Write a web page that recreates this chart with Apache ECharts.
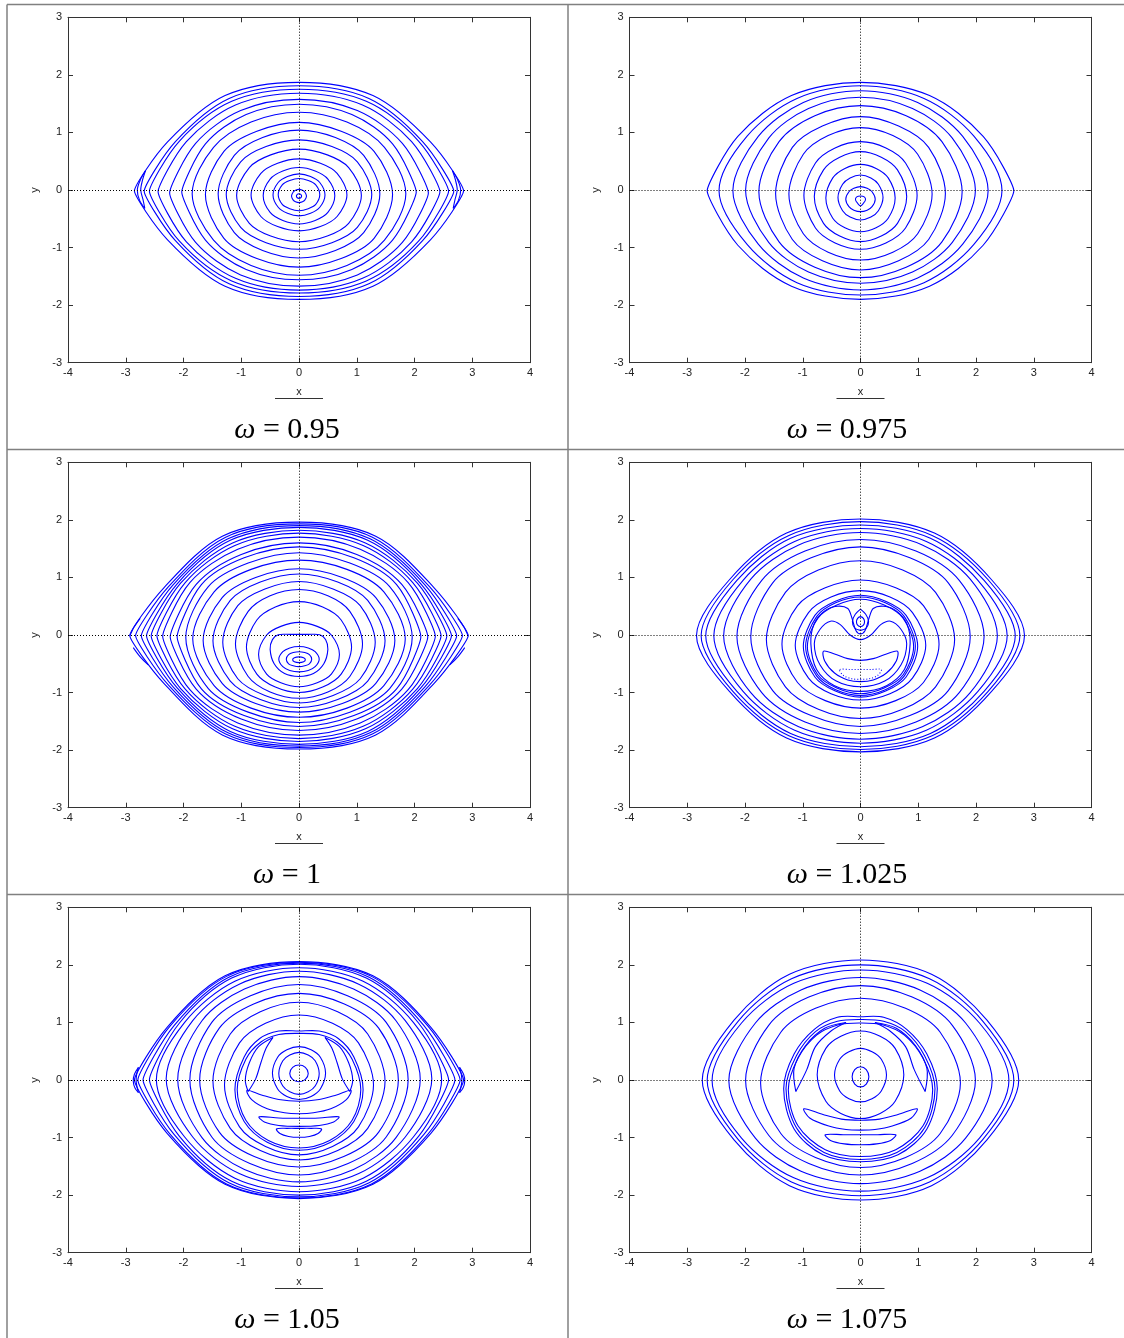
<!DOCTYPE html>
<html>
<head>
<meta charset="utf-8">
<script src="https://cdn.jsdelivr.net/npm/echarts@6/dist/echarts.min.js"></script>
<style>
html,body{margin:0;padding:0;background:#fff;}
#chart{width:1124px;height:1338px;}
</style>
</head>
<body>
<div id="chart"></div>
<script>
// Driving frequencies, one per panel (row-major order)
const omegaValues = ['0.95', '0.975', '1', '1.025', '1.05', '1.075'];

// Axis ranges and tick step
const xRange = [-4, 4];
const yRange = [-3, 3];
const tickStep = 1;

// ---- omega = 0.95 : closed invariant curves, listed W -> top -> E -> bottom
const closedW095 = [
  [[-2.85,-0.015],[-2.28,0.83],[-1.28,1.64],[0,1.87],[1.28,1.64],[2.28,0.83],[2.85,-0.015],[2.28,-0.86],[1.28,-1.67],[0,-1.9],[-1.28,-1.67],[-2.28,-0.86]],
  [[-2.68,-0.02],[-2.14,0.84],[-1.21,1.59],[0,1.81],[1.21,1.59],[2.14,0.84],[2.68,-0.02],[2.14,-0.88],[1.21,-1.63],[0,-1.85],[-1.21,-1.63],[-2.14,-0.88]],
  [[-2.59,-0.02],[-2.07,0.85],[-1.165,1.54],[0,1.75],[1.165,1.54],[2.07,0.85],[2.59,-0.02],[2.07,-0.89],[1.165,-1.58],[0,-1.79],[-1.165,-1.58],[-2.07,-0.89]],
  [[-2.44,-0.03],[-1.95,0.84],[-1.1,1.475],[0,1.68],[1.1,1.475],[1.95,0.84],[2.44,-0.03],[1.95,-0.9],[1.1,-1.535],[0,-1.74],[-1.1,-1.535],[-1.95,-0.9]],
  [[-2.24,-0.05],[-1.79,0.81],[-1.01,1.38],[0,1.575],[1.01,1.38],[1.79,0.81],[2.24,-0.05],[1.79,-0.91],[1.01,-1.475],[0,-1.67],[-1.01,-1.475],[-1.79,-0.91]],
  [[-2.03,-0.035],[-1.62,0.8],[-0.915,1.31],[0,1.49],[0.915,1.31],[1.62,0.8],[2.03,-0.035],[1.62,-0.87],[0.915,-1.38],[0,-1.56],[-0.915,-1.38],[-1.62,-0.87]],
  [[-1.85,-0.065],[-1.48,0.74],[-0.83,1.18],[0,1.35],[0.83,1.18],[1.48,0.74],[1.85,-0.065],[1.48,-0.87],[0.83,-1.31],[0,-1.48],[-0.83,-1.31],[-1.48,-0.87]],
  [[-1.62,-0.08],[-1.3,0.67],[-0.73,1.02],[0,1.175],[0.73,1.02],[1.3,0.67],[1.62,-0.08],[1.3,-0.84],[0.73,-1.19],[0,-1.34],[-0.73,-1.19],[-1.3,-0.84]],
  [[-1.4,-0.07],[-1.12,0.6],[-0.63,0.91],[0,1.04],[0.63,0.91],[1.12,0.6],[1.4,-0.07],[1.12,-0.74],[0.63,-1.05],[0,-1.18],[-0.63,-1.05],[-1.12,-0.74]],
  [[-1.26,-0.08],[-1.01,0.49],[-0.57,0.755],[0,0.87],[0.57,0.755],[1.01,0.49],[1.26,-0.08],[1.01,-0.65],[0.57,-0.915],[0,-1.03],[-0.57,-0.915],[-1.01,-0.65]],
  [[-1.08,-0.095],[-0.86,0.39],[-0.49,0.61],[0,0.71],[0.49,0.61],[0.86,0.39],[1.08,-0.095],[0.86,-0.58],[0.49,-0.8],[0,-0.9],[-0.49,-0.8],[-0.86,-0.58]],
  [[-0.83,-0.085],[-0.66,0.29],[-0.37,0.465],[0,0.54],[0.37,0.465],[0.66,0.29],[0.83,-0.085],[0.66,-0.46],[0.37,-0.635],[0,-0.71],[-0.37,-0.635],[-0.66,-0.46]],
  [[-0.62,-0.1],[-0.5,0.19],[-0.28,0.33],[0,0.39],[0.28,0.33],[0.5,0.19],[0.62,-0.1],[0.5,-0.39],[0.28,-0.53],[0,-0.59],[-0.28,-0.53],[-0.5,-0.39]],
  [[-0.45,-0.085],[-0.36,0.13],[-0.2,0.235],[0,0.28],[0.2,0.235],[0.36,0.13],[0.45,-0.085],[0.36,-0.3],[0.2,-0.405],[0,-0.45],[-0.2,-0.405],[-0.36,-0.3]],
  [[-0.36,-0.08],[-0.29,0.09],[-0.16,0.165],[0,0.2],[0.16,0.165],[0.29,0.09],[0.36,-0.08],[0.29,-0.25],[0.16,-0.325],[0,-0.36],[-0.16,-0.325],[-0.29,-0.25]],
  [[-0.13,-0.105],[-0.1,-0.035],[-0.06,-0.005],[0,0.01],[0.06,-0.005],[0.1,-0.035],[0.13,-0.105],[0.1,-0.175],[0.06,-0.205],[0,-0.22],[-0.06,-0.205],[-0.1,-0.175]],
  [[-0.045,-0.105],[-0.03,-0.075],[0,-0.065],[0.03,-0.075],[0.045,-0.105],[0.03,-0.135],[0,-0.145],[-0.03,-0.135]]
];
// small islands near the hyperbolic tips (open arcs, tip to tip)
const openW095 = [
  [[-2.66,0.33],[-2.75,0.17],[-2.8,0],[-2.76,-0.18],[-2.67,-0.32]],
  [[-2.66,0.33],[-2.71,0.17],[-2.74,0],[-2.7,-0.17],[-2.67,-0.32]],
  [[2.66,0.33],[2.75,0.17],[2.8,0],[2.76,-0.18],[2.67,-0.32]],
  [[2.66,0.33],[2.71,0.17],[2.74,0],[2.7,-0.17],[2.67,-0.32]]
];

// ---- omega = 0.975
const closedW0975 = [
  [[-2.655,-0.015],[-2.124,0.93],[-1.195,1.64],[0,1.87],[1.195,1.64],[2.124,0.93],[2.655,-0.015],[2.124,-0.96],[1.195,-1.67],[0,-1.9],[-1.195,-1.67],[-2.124,-0.96]],
  [[-2.45,-0.01],[-1.96,0.94],[-1.1,1.59],[0,1.81],[1.1,1.59],[1.96,0.94],[2.45,-0.01],[1.96,-0.95],[1.1,-1.61],[0,-1.825],[-1.1,-1.61],[-1.96,-0.95]],
  [[-2.21,-0.01],[-1.77,0.93],[-0.99,1.52],[0,1.725],[0.99,1.52],[1.77,0.93],[2.21,-0.01],[1.77,-0.94],[0.99,-1.53],[0,-1.737],[-0.99,-1.53],[-1.77,-0.94]],
  [[-1.99,-0.005],[-1.59,0.9],[-0.9,1.415],[0,1.61],[0.9,1.415],[1.59,0.9],[1.99,-0.005],[1.59,-0.91],[0.9,-1.425],[0,-1.62],[-0.9,-1.425],[-1.59,-0.91]],
  [[-1.76,-0.03],[-1.41,0.84],[-0.79,1.29],[0,1.465],[0.79,1.29],[1.41,0.84],[1.76,-0.03],[1.41,-0.9],[0.79,-1.34],[0,-1.523],[-0.79,-1.34],[-1.41,-0.9]],
  [[-1.47,-0.06],[-1.18,0.74],[-0.66,1.11],[0,1.274],[0.66,1.11],[1.18,0.74],[1.47,-0.06],[1.18,-0.86],[0.66,-1.23],[0,-1.39],[-0.66,-1.23],[-1.18,-0.86]],
  [[-1.24,-0.07],[-0.99,0.62],[-0.56,0.945],[0,1.083],[0.56,0.945],[0.99,0.62],[1.24,-0.07],[0.99,-0.76],[0.56,-1.08],[0,-1.216],[-0.56,-1.08],[-0.99,-0.76]],
  [[-0.98,-0.095],[-0.78,0.47],[-0.44,0.73],[0,0.84],[0.44,0.73],[0.78,0.47],[0.98,-0.095],[0.78,-0.66],[0.44,-0.92],[0,-1.03],[-0.44,-0.92],[-0.78,-0.66]],
  [[-0.8,-0.115],[-0.64,0.35],[-0.36,0.57],[0,0.666],[0.36,0.57],[0.64,0.35],[0.8,-0.115],[0.64,-0.58],[0.36,-0.8],[0,-0.897],[-0.36,-0.8],[-0.64,-0.58]],
  [[-0.6,-0.14],[-0.48,0.21],[-0.27,0.375],[0,0.446],[0.27,0.375],[0.48,0.21],[0.6,-0.14],[0.48,-0.49],[0.27,-0.655],[0,-0.724],[-0.27,-0.655],[-0.48,-0.49]],
  [[-0.39,-0.13],[-0.31,0.1],[-0.18,0.21],[0,0.26],[0.18,0.21],[0.31,0.1],[0.39,-0.13],[0.31,-0.36],[0.18,-0.47],[0,-0.52],[-0.18,-0.47],[-0.31,-0.36]],
  [[-0.255,-0.16],[-0.2,-0.03],[-0.115,0.03],[0,0.058],[0.115,0.03],[0.2,-0.03],[0.255,-0.16],[0.2,-0.29],[0.115,-0.35],[0,-0.376],[-0.115,-0.35],[-0.2,-0.29]],
  [[-0.087,-0.17],[-0.065,-0.12],[0,-0.104],[0.065,-0.12],[0.087,-0.17],[0.05,-0.23],[0,-0.278],[-0.05,-0.23]]
];
const openW0975 = [];

// ---- omega = 1
const closedW1 = [
  [[-2.93,-0.01],[-2.34,0.82],[-1.32,1.72],[0,1.96],[1.32,1.72],[2.34,0.82],[2.93,-0.01],[2.34,-0.84],[1.32,-1.74],[0,-1.98],[-1.32,-1.74],[-2.34,-0.84]],
  [[-2.83,-0.01],[-2.26,0.84],[-1.27,1.7],[0,1.93],[1.27,1.7],[2.26,0.84],[2.83,-0.01],[2.26,-0.87],[1.27,-1.72],[0,-1.955],[-1.27,-1.72],[-2.26,-0.87]],
  [[-2.73,-0.015],[-2.18,0.87],[-1.23,1.67],[0,1.9],[1.23,1.67],[2.18,0.87],[2.73,-0.015],[2.18,-0.9],[1.23,-1.7],[0,-1.93],[-1.23,-1.7],[-2.18,-0.9]],
  [[-2.64,-0.015],[-2.11,0.89],[-1.19,1.645],[0,1.87],[1.19,1.645],[2.11,0.89],[2.64,-0.015],[2.11,-0.92],[1.19,-1.675],[0,-1.9],[-1.19,-1.675],[-2.11,-0.92]],
  [[-2.56,-0.015],[-2.05,0.9],[-1.15,1.6],[0,1.82],[1.15,1.6],[2.05,0.9],[2.56,-0.015],[2.05,-0.93],[1.15,-1.63],[0,-1.85],[-1.15,-1.63],[-2.05,-0.93]],
  [[-2.46,-0.015],[-1.97,0.91],[-1.11,1.556],[0,1.77],[1.11,1.556],[1.97,0.91],[2.46,-0.015],[1.97,-0.94],[1.11,-1.586],[0,-1.8],[-1.11,-1.586],[-1.97,-0.94]],
  [[-2.36,-0.02],[-1.89,0.91],[-1.06,1.49],[0,1.7],[1.06,1.49],[1.89,0.91],[2.36,-0.02],[1.89,-0.95],[1.06,-1.53],[0,-1.74],[-1.06,-1.53],[-1.89,-0.95]],
  [[-2.23,-0.03],[-1.78,0.88],[-1.0,1.4],[0,1.6],[1.0,1.4],[1.78,0.88],[2.23,-0.03],[1.78,-0.94],[1.0,-1.46],[0,-1.66],[-1.0,-1.46],[-1.78,-0.94]],
  [[-2.11,-0.03],[-1.69,0.875],[-0.95,1.34],[0,1.53],[0.95,1.34],[1.69,0.875],[2.11,-0.03],[1.69,-0.935],[0.95,-1.4],[0,-1.59],[-0.95,-1.4],[-1.69,-0.935]],
  [[-1.96,-0.045],[-1.57,0.84],[-0.88,1.25],[0,1.43],[0.88,1.25],[1.57,0.84],[1.96,-0.045],[1.57,-0.93],[0.88,-1.34],[0,-1.52],[-0.88,-1.34],[-1.57,-0.93]],
  [[-1.84,-0.065],[-1.47,0.75],[-0.83,1.14],[0,1.3],[0.83,1.14],[1.47,0.75],[1.84,-0.065],[1.47,-0.88],[0.83,-1.27],[0,-1.43],[-0.83,-1.27],[-1.47,-0.88]],
  [[-1.66,-0.095],[-1.33,0.65],[-0.75,1.0],[0,1.15],[0.75,1.0],[1.33,0.65],[1.66,-0.095],[1.33,-0.84],[0.75,-1.19],[0,-1.34],[-0.75,-1.19],[-1.33,-0.84]],
  [[-1.49,-0.1],[-1.19,0.6],[-0.67,0.92],[0,1.06],[0.67,0.92],[1.19,0.6],[1.49,-0.1],[1.19,-0.8],[0.67,-1.12],[0,-1.26],[-0.67,-1.12],[-1.19,-0.8]],
  [[-1.32,-0.125],[-1.06,0.51],[-0.59,0.8],[0,0.93],[0.59,0.8],[1.06,0.51],[1.32,-0.125],[1.06,-0.76],[0.59,-1.05],[0,-1.18],[-0.59,-1.05],[-1.06,-0.76]],
  [[-1.1,-0.155],[-0.88,0.41],[-0.5,0.68],[0,0.79],[0.5,0.68],[0.88,0.41],[1.1,-0.155],[0.88,-0.72],[0.5,-0.99],[0,-1.1],[-0.5,-0.99],[-0.88,-0.72]],
  [[-0.91,-0.21],[-0.73,0.26],[-0.41,0.485],[0,0.58],[0.41,0.485],[0.73,0.26],[0.91,-0.21],[0.73,-0.68],[0.41,-0.905],[0,-1.0],[-0.41,-0.905],[-0.73,-0.68]],
  [[-0.7,-0.34],[-0.56,0.0],[-0.315,0.15],[0,0.22],[0.315,0.15],[0.56,0.0],[0.7,-0.34],[0.56,-0.68],[0.315,-0.83],[0,-0.9],[-0.315,-0.83],[-0.56,-0.68]],
  [[-0.5,-0.25],[-0.46,-0.08],[-0.36,0.005],[-0.15,0.01],[0,0.01],[0.15,0.01],[0.36,0.005],[0.46,-0.08],[0.5,-0.25],[0.43,-0.5],[0.25,-0.67],[0,-0.72],[-0.25,-0.67],[-0.43,-0.5]],
  [[-0.35,-0.42],[-0.28,-0.29],[-0.16,-0.225],[0,-0.2],[0.16,-0.225],[0.28,-0.29],[0.35,-0.42],[0.28,-0.55],[0.16,-0.615],[0,-0.64],[-0.16,-0.615],[-0.28,-0.55]],
  [[-0.22,-0.42],[-0.18,-0.34],[-0.1,-0.305],[0,-0.29],[0.1,-0.305],[0.18,-0.34],[0.22,-0.42],[0.18,-0.5],[0.1,-0.535],[0,-0.55],[-0.1,-0.535],[-0.18,-0.5]],
  [[-0.11,-0.43],[-0.08,-0.395],[0,-0.38],[0.08,-0.395],[0.11,-0.43],[0.08,-0.465],[0,-0.48],[-0.08,-0.465]]
];
const openW1 = [
  [[-2.93,-0.02],[-2.86,0.13],[-2.75,0.29]],
  [[-2.87,-0.22],[-2.75,-0.38],[-2.61,-0.52]],
  [[2.93,-0.02],[2.86,0.13],[2.75,0.29]],
  [[2.87,-0.22],[2.75,-0.38],[2.61,-0.52]]
];

// ---- omega = 1.025
const closedW1025 = [
  [[-2.84,-0.01],[-2.27,0.96],[-1.28,1.77],[0,2.015],[1.28,1.77],[2.27,0.96],[2.84,-0.01],[2.27,-0.98],[1.28,-1.79],[0,-2.03],[-1.28,-1.79],[-2.27,-0.98]],
  [[-2.76,-0.01],[-2.21,0.96],[-1.24,1.73],[0,1.97],[1.24,1.73],[2.21,0.96],[2.76,-0.01],[2.21,-0.98],[1.24,-1.75],[0,-1.99],[-1.24,-1.75],[-2.21,-0.98]],
  [[-2.68,-0.015],[-2.14,0.95],[-1.21,1.68],[0,1.91],[1.21,1.68],[2.14,0.95],[2.68,-0.015],[2.14,-0.98],[1.21,-1.71],[0,-1.94],[-1.21,-1.71],[-2.14,-0.98]],
  [[-2.54,-0.015],[-2.03,0.955],[-1.14,1.625],[0,1.85],[1.14,1.625],[2.03,0.955],[2.54,-0.015],[2.03,-0.985],[1.14,-1.655],[0,-1.88],[-1.14,-1.655],[-2.03,-0.985]],
  [[-2.37,-0.015],[-1.9,0.97],[-1.07,1.565],[0,1.78],[1.07,1.565],[1.9,0.97],[2.37,-0.015],[1.9,-1.0],[1.07,-1.595],[0,-1.81],[-1.07,-1.595],[-1.9,-1.0]],
  [[-2.14,-0.025],[-1.71,0.95],[-0.96,1.46],[0,1.66],[0.96,1.46],[1.71,0.95],[2.14,-0.025],[1.71,-1.0],[0.96,-1.51],[0,-1.71],[-0.96,-1.51],[-1.71,-1.0]],
  [[-1.9,-0.03],[-1.52,0.905],[-0.855,1.34],[0,1.53],[0.855,1.34],[1.52,0.905],[1.9,-0.03],[1.52,-0.965],[0.855,-1.4],[0,-1.59],[-0.855,-1.4],[-1.52,-0.965]],
  [[-1.63,-0.08],[-1.3,0.74],[-0.73,1.13],[0,1.29],[0.73,1.13],[1.3,0.74],[1.63,-0.08],[1.3,-0.9],[0.73,-1.29],[0,-1.45],[-0.73,-1.29],[-1.3,-0.9]],
  [[-1.36,-0.16],[-1.09,0.51],[-0.61,0.82],[0,0.955],[0.61,0.82],[1.09,0.51],[1.36,-0.16],[1.09,-0.825],[0.61,-1.14],[0,-1.27],[-0.61,-1.14],[-1.09,-0.825]],
  [[-1.13,-0.18],[-0.9,0.39],[-0.51,0.66],[0,0.77],[0.51,0.66],[0.9,0.39],[1.13,-0.18],[0.9,-0.75],[0.51,-1.02],[0,-1.13],[-0.51,-1.02],[-0.9,-0.75]],
  [[-0.99,-0.195],[-0.79,0.34],[-0.445,0.58],[0,0.69],[0.445,0.58],[0.79,0.34],[0.99,-0.195],[0.79,-0.73],[0.445,-0.97],[0,-1.08],[-0.445,-0.97],[-0.79,-0.73]],
  [[-0.95,-0.195],[-0.76,0.32],[-0.43,0.56],[0,0.66],[0.43,0.56],[0.76,0.32],[0.95,-0.195],[0.76,-0.71],[0.43,-0.95],[0,-1.05],[-0.43,-0.95],[-0.76,-0.71]],
  [[-0.92,-0.2],[-0.74,0.29],[-0.41,0.52],[0,0.62],[0.41,0.52],[0.74,0.29],[0.92,-0.2],[0.74,-0.69],[0.41,-0.92],[0,-1.02],[-0.41,-0.92],[-0.74,-0.69]],
  [[-0.86,-0.15],[-0.8,0.2],[-0.62,0.42],[-0.4,0.5],[-0.22,0.46],[-0.15,0.3],[-0.08,0.08],[0,0.02],[0.08,0.08],[0.15,0.3],[0.22,0.46],[0.4,0.5],[0.62,0.42],[0.8,0.2],[0.86,-0.15],[0.76,-0.6],[0.45,-0.88],[0,-0.98],[-0.45,-0.88],[-0.76,-0.6]],
  [[-0.8,-0.15],[-0.7,0.1],[-0.52,0.24],[-0.35,0.18],[-0.18,0.0],[0,-0.08],[0.18,0.0],[0.35,0.18],[0.52,0.24],[0.7,0.1],[0.8,-0.15],[0.7,-0.52],[0.42,-0.8],[0,-0.9],[-0.42,-0.8],[-0.7,-0.52]],
  [[-0.64,-0.28],[-0.45,-0.33],[-0.22,-0.41],[0,-0.44],[0.22,-0.41],[0.45,-0.33],[0.64,-0.28],[0.62,-0.45],[0.45,-0.66],[0.22,-0.78],[0,-0.81],[-0.22,-0.78],[-0.45,-0.66],[-0.62,-0.45]],
  [[-0.07,0.23],[-0.05,0.29],[0,0.32],[0.05,0.29],[0.07,0.23],[0.05,0.17],[0,0.145],[-0.05,0.17]]
];
const openW1025 = [
  [[0,0.45],[0.09,0.36],[0.14,0.24],[0.1,0.12],[0,0.08]],
  [[0,0.45],[-0.09,0.36],[-0.14,0.24],[-0.1,0.12],[0,0.08]]
];
const dottedW1025 = [
  [[-0.36,-0.6],[-0.18,-0.6],[0,-0.6],[0.18,-0.6],[0.36,-0.6],[0.3,-0.7],[0.15,-0.76],[0,-0.77],[-0.15,-0.76],[-0.3,-0.7]]
];

// ---- omega = 1.05
const closedW105 = [
  [[-2.85,0],[-2.28,0.92],[-1.28,1.81],[0,2.056],[1.28,1.81],[2.28,0.92],[2.85,0],[2.28,-0.93],[1.28,-1.81],[0,-2.06],[-1.28,-1.81],[-2.28,-0.93]],
  [[-2.79,0],[-2.23,0.94],[-1.255,1.8],[0,2.045],[1.255,1.8],[2.23,0.94],[2.79,0],[2.23,-0.945],[1.255,-1.805],[0,-2.05],[-1.255,-1.805],[-2.23,-0.945]],
  [[-2.7,0],[-2.16,0.95],[-1.215,1.785],[0,2.03],[1.215,1.785],[2.16,0.95],[2.7,0],[2.16,-0.95],[1.215,-1.785],[0,-2.03],[-1.215,-1.785],[-2.16,-0.95]],
  [[-2.59,0.005],[-2.07,0.99],[-1.165,1.77],[0,2.01],[1.165,1.77],[2.07,0.99],[2.59,0.005],[2.07,-0.98],[1.165,-1.76],[0,-2.0],[-1.165,-1.76],[-2.07,-0.98]],
  [[-2.47,0.005],[-1.98,1.0],[-1.11,1.715],[0,1.95],[1.11,1.715],[1.98,1.0],[2.47,0.005],[1.98,-0.99],[1.11,-1.705],[0,-1.94],[-1.11,-1.705],[-1.98,-0.99]],
  [[-2.3,0.02],[-1.84,1.03],[-1.035,1.665],[0,1.89],[1.035,1.665],[1.84,1.03],[2.3,0.02],[1.84,-0.99],[1.035,-1.625],[0,-1.85],[-1.035,-1.625],[-1.84,-0.99]],
  [[-2.1,0.01],[-1.68,1.03],[-0.945,1.58],[0,1.795],[0.945,1.58],[1.68,1.03],[2.1,0.01],[1.68,-1.0],[0.945,-1.555],[0,-1.77],[-0.945,-1.555],[-1.68,-1.0]],
  [[-1.89,0.005],[-1.51,1.0],[-0.85,1.46],[0,1.66],[0.85,1.46],[1.51,1.0],[1.89,0.005],[1.51,-0.99],[0.85,-1.45],[0,-1.65],[-0.85,-1.45],[-1.51,-0.99]],
  [[-1.72,0],[-1.38,0.9],[-0.775,1.325],[0,1.505],[0.775,1.325],[1.38,0.9],[1.72,0],[1.38,-0.905],[0.775,-1.33],[0,-1.51],[-0.775,-1.33],[-1.38,-0.905]],
  [[-1.49,-0.02],[-1.19,0.8],[-0.67,1.185],[0,1.35],[0.67,1.185],[1.19,0.8],[1.49,-0.02],[1.19,-0.84],[0.67,-1.225],[0,-1.39],[-0.67,-1.225],[-1.19,-0.84]],
  [[-1.29,-0.085],[-1.03,0.645],[-0.58,0.985],[0,1.13],[0.58,0.985],[1.03,0.645],[1.29,-0.085],[1.03,-0.815],[0.58,-1.155],[0,-1.3],[-0.58,-1.155],[-1.03,-0.815]],
  [[-1.11,-0.17],[-0.95,0.4],[-0.68,0.72],[-0.35,0.85],[0,0.85],[0.35,0.85],[0.68,0.72],[0.95,0.4],[1.11,-0.17],[0.95,-0.72],[0.55,-1.08],[0,-1.22],[-0.55,-1.08],[-0.95,-0.72]],
  [[-1.07,-0.17],[-0.92,0.36],[-0.66,0.66],[-0.35,0.79],[0,0.81],[0.35,0.79],[0.66,0.66],[0.92,0.36],[1.07,-0.17],[0.92,-0.7],[0.53,-1.05],[0,-1.18],[-0.53,-1.05],[-0.92,-0.7]],
  [[-0.46,0.12],[-0.37,0.395],[-0.21,0.525],[0,0.58],[0.21,0.525],[0.37,0.395],[0.46,0.12],[0.37,-0.155],[0.21,-0.285],[0,-0.34],[-0.21,-0.285],[-0.37,-0.155]],
  [[-0.35,0.115],[-0.28,0.335],[-0.16,0.435],[0,0.48],[0.16,0.435],[0.28,0.335],[0.35,0.115],[0.28,-0.105],[0.16,-0.205],[0,-0.25],[-0.16,-0.205],[-0.28,-0.105]],
  [[-0.16,0.115],[-0.11,0.22],[0,0.26],[0.11,0.22],[0.16,0.115],[0.11,0.01],[0,-0.03],[-0.11,0.01]],
  [[-0.9,-0.18],[-0.65,-0.26],[-0.35,-0.34],[0,-0.37],[0.35,-0.34],[0.65,-0.26],[0.9,-0.18],[0.82,-0.34],[0.55,-0.5],[0.25,-0.57],[0,-0.585],[-0.25,-0.57],[-0.55,-0.5],[-0.82,-0.34]],
  [[-0.69,-0.64],[-0.35,-0.66],[0,-0.665],[0.35,-0.66],[0.69,-0.64],[0.6,-0.73],[0.35,-0.79],[0,-0.805],[-0.35,-0.79],[-0.6,-0.73]],
  [[-0.39,-0.85],[-0.2,-0.84],[0,-0.84],[0.2,-0.84],[0.39,-0.85],[0.33,-0.93],[0.18,-0.98],[0,-0.995],[-0.18,-0.98],[-0.33,-0.93]]
];
const openW105 = [
  [[-0.45,0.74],[-0.7,0.58],[-0.86,0.3],[-0.93,0.0],[-0.88,-0.2]],
  [[-0.45,0.74],[-0.57,0.55],[-0.66,0.3],[-0.75,0.02],[-0.88,-0.2]],
  [[0.45,0.74],[0.7,0.58],[0.86,0.3],[0.93,0.0],[0.88,-0.2]],
  [[0.45,0.74],[0.57,0.55],[0.66,0.3],[0.75,0.02],[0.88,-0.2]],
  [[-2.78,0.22],[-2.85,0.1],[-2.87,-0.02],[-2.84,-0.14],[-2.78,-0.22]],
  [[-2.78,0.22],[-2.81,0.1],[-2.82,-0.02],[-2.8,-0.14],[-2.78,-0.22]],
  [[2.78,0.22],[2.85,0.1],[2.87,-0.02],[2.84,-0.14],[2.78,-0.22]],
  [[2.78,0.22],[2.81,0.1],[2.82,-0.02],[2.8,-0.14],[2.78,-0.22]]
];

// ---- omega = 1.075
const closedW1075 = [
  [[-2.74,0],[-2.19,1.04],[-1.23,1.835],[0,2.085],[1.23,1.835],[2.19,1.04],[2.74,0],[2.19,-1.04],[1.23,-1.835],[0,-2.085],[-1.23,-1.835],[-2.19,-1.04]],
  [[-2.655,-0.005],[-2.12,1.02],[-1.195,1.76],[0,2.0],[1.195,1.76],[2.12,1.02],[2.655,-0.005],[2.12,-1.03],[1.195,-1.77],[0,-2.01],[-1.195,-1.77],[-2.12,-1.03]],
  [[-2.57,-0.01],[-2.06,0.99],[-1.155,1.68],[0,1.91],[1.155,1.68],[2.06,0.99],[2.57,-0.01],[2.06,-1.01],[1.155,-1.7],[0,-1.93],[-1.155,-1.7],[-2.06,-1.01]],
  [[-2.28,-0.01],[-1.82,0.99],[-1.03,1.565],[0,1.78],[1.03,1.565],[1.82,0.99],[2.28,-0.01],[1.82,-1.01],[1.03,-1.585],[0,-1.8],[-1.03,-1.585],[-1.82,-1.01]],
  [[-1.99,-0.005],[-1.59,0.95],[-0.895,1.44],[0,1.64],[0.895,1.44],[1.59,0.95],[1.99,-0.005],[1.59,-0.96],[0.895,-1.45],[0,-1.65],[-0.895,-1.45],[-1.59,-0.96]],
  [[-1.73,-0.05],[-1.38,0.83],[-0.78,1.245],[0,1.42],[0.78,1.245],[1.38,0.83],[1.73,-0.05],[1.38,-0.93],[0.78,-1.345],[0,-1.52],[-0.78,-1.345],[-1.38,-0.93]],
  [[-1.33,-0.15],[-1.15,0.45],[-0.8,0.88],[-0.4,1.09],[0,1.1],[0.4,1.09],[0.8,0.88],[1.15,0.45],[1.33,-0.15],[1.15,-0.85],[0.65,-1.3],[0,-1.42],[-0.65,-1.3],[-1.15,-0.85]],
  [[-1.29,-0.15],[-1.11,0.42],[-0.78,0.84],[-0.4,1.02],[0,1.05],[0.4,1.02],[0.78,0.84],[1.11,0.42],[1.29,-0.15],[1.11,-0.83],[0.63,-1.26],[0,-1.38],[-0.63,-1.26],[-1.11,-0.83]],
  [[-1.25,-0.17],[-1.08,0.38],[-0.76,0.78],[-0.38,0.96],[0,0.99],[0.38,0.96],[0.76,0.78],[1.08,0.38],[1.25,-0.17],[1.08,-0.8],[0.61,-1.21],[0,-1.33],[-0.61,-1.21],[-1.08,-0.8]],
  [[-0.75,0.09],[-0.6,0.55],[-0.34,0.76],[0,0.85],[0.34,0.76],[0.6,0.55],[0.75,0.09],[0.6,-0.37],[0.34,-0.58],[0,-0.67],[-0.34,-0.58],[-0.6,-0.37]],
  [[-0.45,0.085],[-0.36,0.36],[-0.2,0.49],[0,0.55],[0.2,0.49],[0.36,0.36],[0.45,0.085],[0.36,-0.19],[0.2,-0.325],[0,-0.38],[-0.2,-0.325],[-0.36,-0.19]],
  [[-0.145,0.055],[-0.1,0.18],[0,0.23],[0.1,0.18],[0.145,0.055],[0.1,-0.07],[0,-0.12],[-0.1,-0.07]],
  [[-0.98,-0.5],[-0.65,-0.6],[-0.33,-0.68],[0,-0.7],[0.33,-0.68],[0.65,-0.6],[0.98,-0.5],[0.88,-0.66],[0.55,-0.8],[0.25,-0.86],[0,-0.87],[-0.25,-0.86],[-0.55,-0.8],[-0.88,-0.66]],
  [[-0.61,-0.95],[-0.3,-0.95],[0,-0.95],[0.3,-0.95],[0.61,-0.95],[0.52,-1.05],[0.28,-1.11],[0,-1.125],[-0.28,-1.11],[-0.52,-1.05]]
];
const openW1075 = [
  [[-0.25,1.0],[-0.62,0.9],[-0.95,0.6],[-1.15,0.2],[-1.12,-0.2]],
  [[-0.25,1.0],[-0.5,0.86],[-0.78,0.58],[-0.93,0.18],[-1.12,-0.2]],
  [[0.25,1.0],[0.62,0.9],[0.95,0.6],[1.15,0.2],[1.12,-0.2]],
  [[0.25,1.0],[0.5,0.86],[0.78,0.58],[0.93,0.18],[1.12,-0.2]]
];

const closedSets = [closedW095, closedW0975, closedW1, closedW1025, closedW105, closedW1075];
const openSets = [openW095, openW0975, openW1, openW1025, openW105, openW1075];
const dottedSets = [[], [], [], dottedW1025, [], []];
// how many of the outermost curves in each panel have sharp left/right tips
const sharpTipCount = [6, 1, 9, 0, 4, 0];

// ---- layout
const colLeft = [68, 629.5];
const colCenter = [287, 847];
const rowTop = [17.3, 462.3, 907.3];
const plotW = 462, plotH = 345.4, rowStep = 445;

const SMOOTH = 0.32, TIP_SMOOTH = 0.1;

// smooth cubic path through pixel points (closed loops wrap around)
function curvePath(pts, closed, tips) {
  const n = pts.length;
  const cps = [];
  for (let i = 0; i < n; i++) {
    const p = pts[i];
    let prev, next;
    if (closed) { prev = pts[(i - 1 + n) % n]; next = pts[(i + 1) % n]; }
    else {
      if (i === 0 || i === n - 1) { cps.push([p, p]); continue; }
      prev = pts[i - 1]; next = pts[i + 1];
    }
    const k = tips && tips.indexOf(i) >= 0 ? TIP_SMOOTH : SMOOTH;
    const vx = (next[0] - prev[0]) * k, vy = (next[1] - prev[1]) * k;
    const d0 = Math.hypot(p[0] - prev[0], p[1] - prev[1]);
    const d1 = Math.hypot(next[0] - p[0], next[1] - p[1]);
    const s = (d0 + d1) || 1;
    cps.push([[p[0] - vx * d0 / s, p[1] - vy * d0 / s], [p[0] + vx * d1 / s, p[1] + vy * d1 / s]]);
  }
  const f = v => v.toFixed(2);
  let d = 'M' + f(pts[0][0]) + ' ' + f(pts[0][1]);
  const segs = closed ? n : n - 1;
  for (let i = 0; i < segs; i++) {
    const j = (i + 1) % n;
    const a = cps[i][1], b = cps[j][0], q = pts[j];
    d += 'C' + f(a[0]) + ' ' + f(a[1]) + ' ' + f(b[0]) + ' ' + f(b[1]) + ' ' + f(q[0]) + ' ' + f(q[1]);
  }
  return closed ? d + 'Z' : d;
}
function tipIndices(pts) {
  let lo = 0, hi = 0;
  pts.forEach((p, i) => { if (p[0] < pts[lo][0]) lo = i; if (p[0] > pts[hi][0]) hi = i; });
  return [lo, hi];
}

const axisColor = '#333';
const labelFont = 'Liberation Sans, Arial, sans-serif';
const grids = [], xAxes = [], yAxes = [], series = [], graphics = [];

omegaValues.forEach((w, i) => {
  const r = Math.floor(i / 2), c = i % 2;
  grids.push({ left: colLeft[c], top: rowTop[r], width: plotW, height: plotH, show: false });
  const baseX = {
    gridIndex: i, type: 'value', min: xRange[0], max: xRange[1], interval: tickStep,
    splitLine: { show: false },
    axisLine: { show: true, onZero: false, lineStyle: { color: axisColor, width: 1 } },
    axisTick: { show: true, inside: true, length: 5, lineStyle: { color: axisColor } }
  };
  const baseY = {
    gridIndex: i, type: 'value', min: yRange[0], max: yRange[1], interval: tickStep,
    splitLine: { show: false },
    axisLine: { show: true, onZero: false, lineStyle: { color: axisColor, width: 1 } },
    axisTick: { show: true, inside: true, length: 5, lineStyle: { color: axisColor } }
  };
  xAxes.push(Object.assign({}, baseX, {
    position: 'bottom',
    axisLabel: { show: true, fontSize: 11, color: '#222', margin: 5, fontFamily: labelFont },
    name: 'x', nameLocation: 'middle', nameGap: 24,
    nameTextStyle: { fontSize: 11, color: '#222', fontFamily: labelFont }
  }));
  xAxes.push(Object.assign({}, baseX, { position: 'top', axisLabel: { show: false } }));
  yAxes.push(Object.assign({}, baseY, {
    position: 'left',
    axisLabel: { show: true, fontSize: 11, color: '#222', margin: 6, fontFamily: labelFont },
    name: 'y', nameLocation: 'middle', nameGap: 28, nameRotate: 90,
    nameTextStyle: { fontSize: 11, color: '#222', fontFamily: labelFont }
  }));
  yAxes.push(Object.assign({}, baseY, { position: 'right', axisLabel: { show: false } }));

  // every curve of the panel: closed loops, open arcs and sparse (dotted) loops
  const curves = [];
  closedSets[i].forEach((pts, k) => curves.push({ pts, closed: true, sharp: k < sharpTipCount[i], dotted: false }));
  openSets[i].forEach(pts => curves.push({ pts, closed: false, sharp: false, dotted: false }));
  dottedSets[i].forEach(pts => curves.push({ pts, closed: true, sharp: false, dotted: true }));

  series.push({
    type: 'custom', coordinateSystem: 'cartesian2d', xAxisIndex: 2 * i, yAxisIndex: 2 * i,
    silent: true, clip: true,
    data: curves.map(cv => [cv.pts[0][0], cv.pts[0][1]]),
    encode: { x: 0, y: 1 },
    renderItem: (params, api) => {
      const cv = curves[params.dataIndex];
      const px = cv.pts.map(p => api.coord(p));
      return {
        type: 'path',
        shape: { pathData: curvePath(px, cv.closed, cv.sharp ? tipIndices(cv.pts) : null) },
        style: { fill: 'none', stroke: '#0000ff', lineWidth: 1.1, lineDash: cv.dotted ? [1, 2] : null }
      };
    },
    markLine: {
      silent: true, symbol: ['none', 'none'], label: { show: false },
      lineStyle: { type: [1, 2], color: '#000', width: 1 },
      data: [{ xAxis: 0 }, { yAxis: 0 }]
    }
  });

  // short rule under the x label
  const cx = colLeft[c] + plotW / 2;
  graphics.push({
    type: 'line', silent: true,
    shape: { x1: cx - 24, y1: 398.5 + r * rowStep, x2: cx + 24, y2: 398.5 + r * rowStep },
    style: { stroke: '#333', lineWidth: 1 }
  });
  // panel caption
  graphics.push({
    type: 'text', silent: true, x: colCenter[c], y: 430 + r * rowStep,
    style: {
      text: '{w|ω} = ' + w,
      rich: { w: { fontStyle: 'italic', fontFamily: 'Liberation Serif, DejaVu Serif, serif', fontSize: 30, fill: '#000' } },
      fontFamily: 'Liberation Serif, DejaVu Serif, serif', fontSize: 30, fill: '#000',
      textAlign: 'center', textVerticalAlign: 'middle'
    }
  });
});

// cell rules between panels
const ruleStyle = { stroke: '#808080', lineWidth: 1.5 };
[[7, 4.5, 1124, 4.5], [7, 449.5, 1124, 449.5], [7, 894.5, 1124, 894.5],
 [7, 4.5, 7, 1338], [568, 4.5, 568, 1338]].forEach(s => {
  graphics.push({ type: 'line', silent: true, shape: { x1: s[0], y1: s[1], x2: s[2], y2: s[3] }, style: ruleStyle });
});

const chart = echarts.init(document.getElementById('chart'), null, { renderer: 'canvas' });
chart.setOption({
  animation: false,
  backgroundColor: '#fff',
  grid: grids, xAxis: xAxes, yAxis: yAxes, series: series, graphic: graphics
});
</script>
</body>
</html>
